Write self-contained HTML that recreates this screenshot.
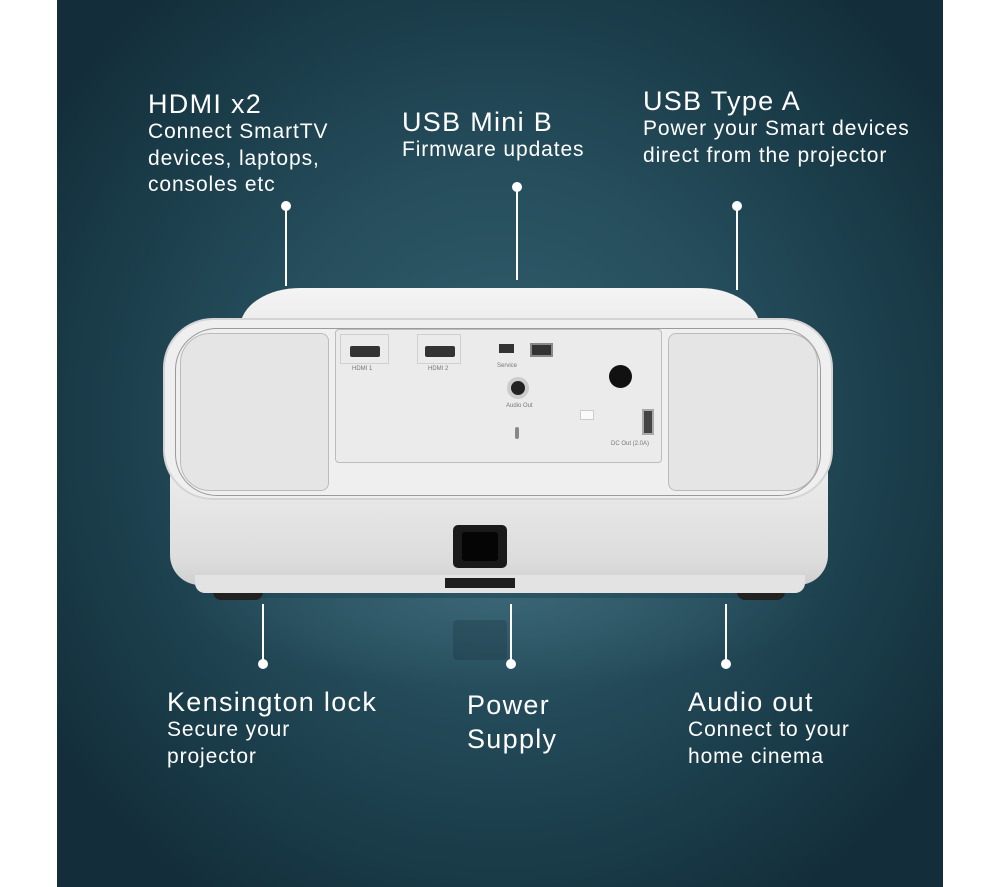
<!DOCTYPE html>
<html><head><style>
*{margin:0;padding:0;box-sizing:border-box}
body{width:1000px;height:887px;background:#fff;position:relative;overflow:hidden;font-family:"Liberation Sans",sans-serif}
#bg{position:absolute;left:57px;top:0;width:886px;height:887px;background:radial-gradient(ellipse 540px 560px at 50% 48%,#34606f 0%,#264e5d 45%,#193a47 80%,#132e3a 100%)}
.t{position:absolute;color:#fff;white-space:nowrap}
.h{font-size:27px;line-height:30px;letter-spacing:1.3px}
.s{font-size:21px;line-height:26.5px;letter-spacing:0.9px}
.ln{position:absolute;width:2px;background:#fff}
.dot{position:absolute;width:10px;height:10px;border-radius:50%;background:#fff}
.a{position:absolute}
</style></head><body>
<div id="bg"></div>

<div class="t" style="left:148px;top:89px"><div class="h">HDMI x2</div><div class="s">Connect SmartTV<br>devices, laptops,<br>consoles etc</div></div>
<div class="t" style="left:402px;top:107px"><div class="h">USB Mini B</div><div class="s">Firmware updates</div></div>
<div class="t" style="left:643px;top:86px"><div class="h">USB Type A</div><div class="s">Power your Smart devices<br>direct from the projector</div></div>

<div class="dot" style="left:281px;top:201px"></div><div class="ln" style="left:285px;top:206px;height:80px"></div>
<div class="dot" style="left:512px;top:182px"></div><div class="ln" style="left:516px;top:187px;height:93px"></div>
<div class="dot" style="left:732px;top:201px"></div><div class="ln" style="left:736px;top:206px;height:84px"></div>

<!-- reflection -->
<div class="a" style="left:180px;top:598px;width:640px;height:90px;background:radial-gradient(ellipse 50% 100% at 50% 0%,rgba(70,115,130,.55),rgba(52,96,111,0))"></div>
<div class="a" style="left:453px;top:620px;width:54px;height:40px;background:rgba(20,40,50,.25);border-radius:4px"></div>

<div class="ln" style="left:262px;top:604px;height:60px"></div><div class="dot" style="left:258px;top:659px"></div>
<div class="ln" style="left:510px;top:604px;height:60px"></div><div class="dot" style="left:506px;top:659px"></div>
<div class="ln" style="left:725px;top:604px;height:60px"></div><div class="dot" style="left:721px;top:659px"></div>

<div class="t" style="left:167px;top:687px"><div class="h">Kensington lock</div><div class="s">Secure your<br>projector</div></div>
<div class="t" style="left:467px;top:688px"><div class="h" style="line-height:34px">Power<br>Supply</div></div>
<div class="t" style="left:688px;top:687px"><div class="h">Audio out</div><div class="s">Connect to your<br>home cinema</div></div>

<!-- feet -->
<div class="a" style="left:213px;top:576px;width:50px;height:24px;border-radius:8px;background:#222"></div>
<div class="a" style="left:737px;top:576px;width:48px;height:24px;border-radius:8px;background:#222"></div>
<!-- top part -->
<div class="a" style="left:240px;top:288px;width:520px;height:60px;border-radius:60px 60px 0 0/40px 40px 0 0;background:linear-gradient(#f4f4f4,#e6e6e6)"></div>
<!-- lower body -->
<div class="a" style="left:170px;top:470px;width:658px;height:115px;border-radius:0 0 30px 30px;background:linear-gradient(#ececec,#dcdcdc 80%,#cfcfcf)"></div>
<div class="a" style="left:195px;top:575px;width:610px;height:18px;background:#e3e3e3;border-radius:0 0 10px 10px"></div>
<div class="a" style="left:445px;top:578px;width:70px;height:10px;background:#1e1e1e"></div>
<!-- main body -->
<div class="a" style="left:163px;top:318px;width:670px;height:182px;border-radius:50px;background:#efefef;border:2px solid #d4d4d4"></div>
<div class="a" style="left:175px;top:328px;width:646px;height:168px;border-radius:42px;border:1.5px solid #9a9a9a"></div>
<!-- speakers -->
<div class="a" style="left:180px;top:333px;width:149px;height:158px;border-radius:30px 8px 8px 30px;background:#e5e5e5;border:1px solid #bbb"></div>
<div class="a" style="left:668px;top:333px;width:150px;height:158px;border-radius:8px 30px 30px 8px;background:#e5e5e5;border:1px solid #bbb"></div>
<!-- panel -->
<div class="a" style="left:335px;top:329px;width:327px;height:134px;background:#ebebeb;border:1px solid #bdbdbd;border-radius:4px"></div>
<div class="a" style="left:340px;top:334px;width:49px;height:30px;border:1px solid #d0d0d0"></div>
<div class="a" style="left:417px;top:334px;width:44px;height:30px;border:1px solid #d0d0d0"></div>
<div class="a" style="left:350px;top:346px;width:30px;height:11px;background:#333;border-radius:2px"></div>
<div class="a" style="left:425px;top:346px;width:30px;height:11px;background:#333;border-radius:2px"></div>
<div class="a" style="left:499px;top:344px;width:15px;height:9px;background:#333"></div>
<div class="a" style="left:530px;top:343px;width:23px;height:14px;background:#333;border:2px solid #888"></div>
<div class="a" style="left:507px;top:377px;width:22px;height:22px;border-radius:50%;background:#222;border:4px solid #ccc"></div>
<div class="a" style="left:609px;top:365px;width:23px;height:23px;border-radius:50%;background:#111"></div>
<div class="a" style="left:642px;top:409px;width:12px;height:26px;background:#444;border:2px solid #aaa"></div>
<div class="a" style="left:580px;top:410px;width:14px;height:10px;background:#fafafa;border:1px solid #ccc"></div>
<div class="a" style="left:515px;top:427px;width:4px;height:12px;background:#888;border-radius:2px"></div>
<div class="a" style="left:352px;top:366px;font-size:6px;color:#777">HDMI 1</div>
<div class="a" style="left:428px;top:366px;font-size:6px;color:#777">HDMI 2</div>
<div class="a" style="left:497px;top:363px;font-size:6px;color:#777">Service</div>
<div class="a" style="left:506px;top:403px;font-size:6px;color:#777">Audio Out</div>
<div class="a" style="left:611px;top:441px;font-size:6px;color:#777">DC Out (2.0A)</div>
<!-- power socket -->
<div class="a" style="left:453px;top:525px;width:54px;height:43px;background:#1a1a1a;border-radius:5px"></div>
<div class="a" style="left:462px;top:532px;width:36px;height:29px;background:#050505;border-radius:3px"></div>
</body></html>
